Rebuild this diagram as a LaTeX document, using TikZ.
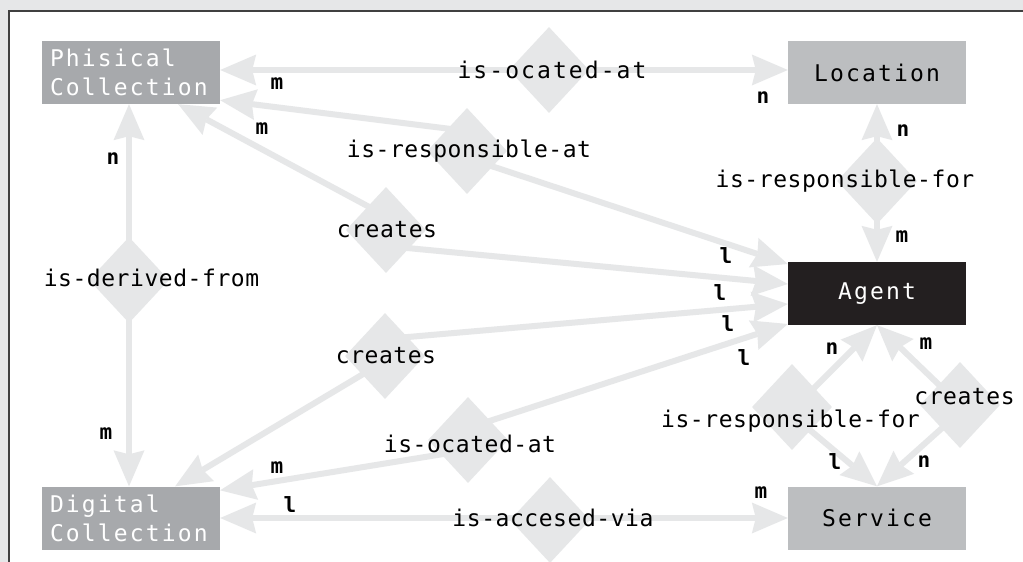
\documentclass[tikz,border=0pt]{standalone}
\usepackage{fontspec}
\newfontfamily\boxfont[LetterSpace=9.3]{DejaVu Sans Mono}
\newfontfamily\relfont[LetterSpace=2.4]{DejaVu Sans Mono}
\newfontfamily\relwidefont[LetterSpace=9.0]{DejaVu Sans Mono}
\newfontfamily\cardfont{DejaVu Sans Mono}
\usetikzlibrary{shapes.geometric,arrows.meta,calc}
\definecolor{linegray}{HTML}{E6E7E8}
\definecolor{darkbox}{HTML}{A7A9AC}
\definecolor{lightbox}{HTML}{BCBEC0}
\definecolor{agentblack}{HTML}{231F20}
\definecolor{framegray}{HTML}{E6E7E8}
\definecolor{borderdark}{HTML}{404040}
\pgfdeclarelayer{bg}
\pgfdeclarelayer{lines}
\pgfsetlayers{bg,lines,main}
\begin{document}
\begin{tikzpicture}[x=1pt,y=-1pt,
  Relhead/.tip={Stealth[length=36pt,width=31pt,inset=4pt,line width=0pt]},
  entity/.style={rectangle, inner sep=0pt, minimum width=178pt, minimum height=63pt,
    font=\boxfont\fontsize{23}{29}\selectfont},
  darkent/.style={entity, fill=darkbox, text=white, text width=162pt, align=left},
  lightent/.style={entity, fill=lightbox, text=black},
  agentent/.style={entity, fill=agentblack, text=white},
  reldiamond/.style={diamond, fill=linegray, minimum width=80pt, minimum height=86pt, inner sep=0pt},
  relhalf/.style={draw=linegray, line width=6pt, -Relhead},
  relboth/.style={draw=linegray, line width=6pt, Relhead-Relhead},
  rellabel/.style={font=\relfont\fontsize{23}{27}\selectfont, inner sep=0pt, anchor=base},
  relwide/.style={font=\relwidefont\fontsize{23}{27}\selectfont, inner sep=0pt, anchor=base},
  card/.style={font=\cardfont\bfseries\fontsize{21}{24}\selectfont, inner sep=0pt}
]
\useasboundingbox (0,0) rectangle (1023,562);
\begin{pgfonlayer}{bg}
  \fill[framegray] (0,0) rectangle (1023,562);
  \fill[white] (9,11) rectangle (1023,562);
  \draw[borderdark, line width=1.2pt] (9,562) -- (9,11) -- (1023,11);
\end{pgfonlayer}

% entities
\node[darkent] (pc) at (131,72.5) {Phisical\\Collection};
\node[lightent] (loc) at (877,72.5) {Location};
\node[agentent] (ag) at (877,293.5) {Agent};
\node[darkent] (dc) at (131,518) {Digital\\Collection};
\node[lightent] (sv) at (877,518) {Service};

% relationship diamonds
\node[reldiamond] (d1) at (549,70) {};
\node[reldiamond] (d2) at (467,151) {};
\node[reldiamond] (d3) at (129,280) {};
\node[reldiamond] (d4) at (386,230) {};
\node[reldiamond] (d5) at (385,356) {};
\node[reldiamond] (d6) at (468,440) {};
\node[reldiamond] (d7) at (550,520) {};
\node[reldiamond] (d8) at (877,181) {};
\node[reldiamond] (d9) at (792,407) {};
\node[reldiamond] (d10) at (960,405) {};

% connectors
\begin{pgfonlayer}{lines}
  \draw[relboth] ([yshift=2.5pt]pc.east) -- ([yshift=2.5pt]loc.west);
  \draw[relhalf] ($(d2.center)+(0,-20)$) -- ([yshift=4pt]pc.south east);
  \draw[relhalf] ($(d2.center)+(0,7)$) -- ([yshift=29.5pt]ag.west);
  \draw[relhalf] ($(d4.center)+(0,-14)$) -- ([xshift=-42pt]pc.south east);
  \draw[relhalf] ($(d4.center)+(0,16)$) -- ([yshift=9.5pt]ag.west);
  \draw[relhalf] ($(d5.center)+(0,-17)$) -- ([yshift=-10.5pt]ag.west);
  \draw[relhalf] ($(d5.center)+(0,5)$) -- ([xshift=-45pt]dc.north east);
  \draw[relhalf] ($(d6.center)+(0,-12)$) -- ([yshift=-30.5pt]ag.west);
  \draw[relhalf] ($(d6.center)+(0,10)$) -- ([yshift=-4pt]dc.north east);
  \draw[relboth] (dc.east) -- (sv.west);
  \draw[relboth] ([xshift=-2pt]pc.south) -- ([xshift=-2pt]dc.north);
  \draw[relboth] (loc.south) -- (ag.north);
  \draw[relhalf] ($(d9.center)+(0,3)$) -- (ag.south);
  \draw[relhalf] ($(d9.center)+(0,8)$) -- (sv.north);
  \draw[relhalf] (d10.center) -- (ag.south);
  \draw[relhalf] ($(d10.center)+(0,7)$) -- (sv.north);
\end{pgfonlayer}

% relationship labels
\node[relwide] (t1) at (552,78) {is-ocated-at};
\node[rellabel] (t2) at (469,157) {is-responsible-at};
\node[rellabel] (t3) at (151.5,286) {is-derived-from};
\node[rellabel] (t4) at (387,237) {creates};
\node[rellabel] (t5) at (386,363) {creates};
\node[rellabel] (t6) at (470,452) {is-ocated-at};
\node[rellabel] (t7) at (553,526) {is-accesed-via};
\node[rellabel] (t8) at (845,187) {is-responsible-for};
\node[rellabel] (t9) at (790.5,427) {is-responsible-for};
\node[rellabel] (t10) at (964.5,404) {creates};

% cardinalities
\node[card] (c1) at (277,84) {m};
\node[card] (c2) at (262,128.5) {m};
\node[card] (c3) at (113,159) {n};
\node[card] (c4) at (763,97.5) {n};
\node[card] (c5) at (903,131) {n};
\node[card] (c6) at (902,237) {m};
\node[card] (c7) at (726,256) {l};
\node[card] (c8) at (720,293) {l};
\node[card] (c9) at (728,324) {l};
\node[card] (c10) at (744,358) {l};
\node[card] (c11) at (832,349) {n};
\node[card] (c12) at (926,344) {m};
\node[card] (c13) at (835,462) {l};
\node[card] (c14) at (924,462) {n};
\node[card] (c15) at (761,493) {m};
\node[card] (c16) at (106,434) {m};
\node[card] (c17) at (277,468) {m};
\node[card] (c18) at (290,505) {l};
\end{tikzpicture}
\end{document}
